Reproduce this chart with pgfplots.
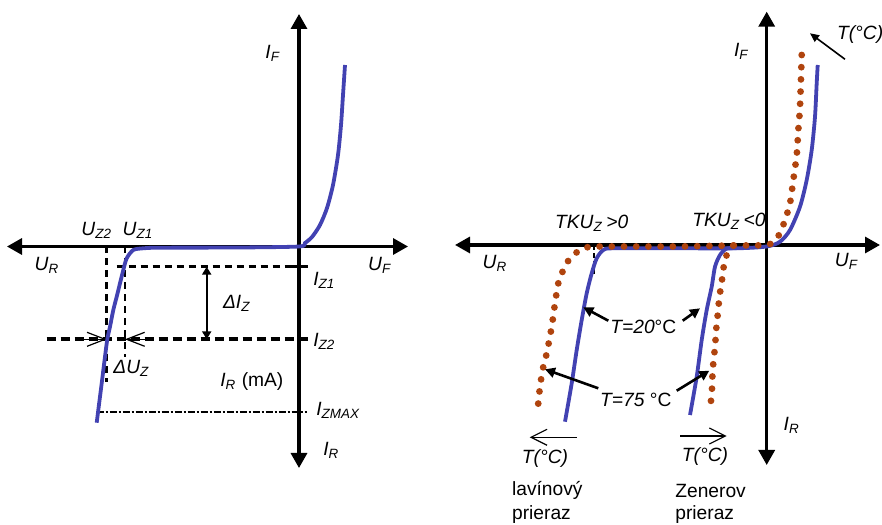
\documentclass[border=0pt]{standalone}
\usepackage{pgfplots}
\pgfplotsset{compat=1.18}
\usepackage{fontspec}
\setmainfont{Liberation Sans}
\usetikzlibrary{arrows.meta}
\definecolor{cblue}{RGB}{66,66,178}
\definecolor{cbrown}{RGB}{176,68,14}
\newcommand\V[2]{\textit{#1}\textsubscript{\textit{#2}}}
\pgfplotsset{diag/.style={hide axis, scale only axis, clip=false, height=262pt, anchor=south west},
  bluecurve/.style={cblue, line width=1.9pt, smooth, tension=0.45, no markers},
  browncurve/.style={cbrown, line width=3.4pt, line cap=round, dash pattern=on 0pt off 6.1pt, smooth, tension=0.45, no markers}}
\tikzset{ax/.style={line width=1.6pt, {Triangle[length=7.5pt,width=8pt]}-{Triangle[length=7.5pt,width=8pt]}},
  ann/.style={line width=1.3pt, -{Triangle[length=5pt,width=5pt]}}}
\begin{document}
\begin{tikzpicture}[font=\fontsize{9.6}{11}\selectfont, every node/.style={inner sep=0pt}]
% ---------------- left panel ----------------
\begin{axis}[diag, xmin=-299, xmax=141, ymin=-277.5, ymax=246.5, width=220pt, at={(0,0)}]
\draw[ax] (axis cs:-292,0) -- (axis cs:109,0);
\draw[ax] (axis cs:0,-221.5) -- (axis cs:0,232.5);
% dashed construction lines
\draw[line width=1.3pt, dash pattern=on 3.5pt off 2.5pt] (axis cs:-192.3,0) -- (axis cs:-192.3,-135.2);
\draw[line width=1.3pt, dash pattern=on 3.5pt off 2.5pt] (axis cs:-174,0) -- (axis cs:-174,-110.2);
\draw[line width=1.3pt, dash pattern=on 3.5pt off 2.5pt] (axis cs:-182.3,-20.2) -- (axis cs:-9,-20.2);
\draw[line width=1.3pt] (axis cs:-9,-20.2) -- (axis cs:9,-20.2);
\draw[line width=1.8pt, dash pattern=on 4.5pt off 2.5pt] (axis cs:-252.3,-92.8) -- (axis cs:9,-92.8);
\draw[line width=1.1pt, dash pattern=on 3.5pt off 1pt on 1pt off 1pt] (axis cs:-202.3,-165.2) -- (axis cs:7.7,-165.2);
\draw[line width=1pt, {Triangle[length=4pt,width=4.5pt]}-{Triangle[length=4pt,width=4.5pt]}] (axis cs:-92.3,-20.2) -- (axis cs:-92.3,-92.8);
\draw[line width=0.6pt, -{Straight Barb[length=9pt,width=7pt]}] (axis cs:-216,-92.8) -- (axis cs:-192.3,-92.8);
\draw[line width=0.6pt, -{Straight Barb[length=9pt,width=7pt]}] (axis cs:-150,-92.8) -- (axis cs:-174,-92.8);
% characteristic
\addplot[bluecurve] coordinates {(46,181.5) (44,151.5) (42,121.5) (39,91.5) (34,61.5) (28,38.5) (21,21.5) (13,9.5) (6,3.5) (0,0) (-60,-1) (-139,-1.2) (-155.7,-1.8) (-165.7,-3.5) (-172.3,-11.8) (-175.7,-23.5) (-179,-36.8) (-182.3,-50.2) (-185.7,-63.5) (-189,-80.2) (-191.7,-92.8) (-194,-110.2) (-197.3,-136.8) (-200.7,-163.5) (-202.3,-176.2)};
% labels
\node at (axis cs:-26,193.5) {\V{I}{F}};
\node at (axis cs:-202.3,16.5) {\V{U}{Z2}};
\node at (axis cs:-161,16.5) {\V{U}{Z1}};
\node at (axis cs:-252,-18.5) {\V{U}{R}};
\node at (axis cs:81,-18.5) {\V{U}{F}};
\node[anchor=west] at (axis cs:14,-33.5) {\V{I}{Z1}};
\node[anchor=west] at (axis cs:-76.3,-56.8) {\V{\textit{Δ}I}{Z}};
\node[anchor=west] at (axis cs:14,-95.2) {\V{I}{Z2}};
\node[anchor=west] at (axis cs:-186,-121.8) {\V{\textit{Δ}U}{Z}};
\node[anchor=west] at (axis cs:-79,-135.2) {\V{I}{R} (mA)};
\node[anchor=west] at (axis cs:17,-164.2) {\V{I}{ZMAX}};
\node[anchor=west] at (axis cs:24,-203.5) {\V{I}{R}};
\end{axis}
% ---------------- right panel ----------------
\begin{axis}[diag, xmin=-326.7, xmax=115.3, ymin=-279, ymax=245, width=221pt, at={(220pt,0)}]
\draw[ax] (axis cs:-311.7,0) -- (axis cs:113.3,0);
\draw[ax] (axis cs:0,-220) -- (axis cs:0,233.3);
\draw[line width=0.9pt, dash pattern=on 2.5pt off 1.5pt] (axis cs:-172.7,0) -- (axis cs:-172.7,-31.7);
% blue (T = 20 C)
\addplot[bluecurve] coordinates {(51,180) (50,162) (48.3,128.3) (45,95) (40,65) (33.3,38.3) (23.3,15) (13.3,3.3) (0,-1.5) (-30,-3.3) (-90,-3.3) (-153.4,-3.3) (-163.4,-5) (-170,-13.3) (-175,-28.3) (-180,-48.3) (-185,-75) (-190,-105) (-195,-138.3) (-201.7,-176.7)};
\addplot[bluecurve] coordinates {(-30,-3.3) (-40,-3.5) (-46.7,-10) (-51.7,-21.7) (-55,-41.7) (-60,-65) (-65,-95) (-70,-131.7) (-76.7,-170)};
% brown dotted (T = 75 C)
\addplot[browncurve] coordinates {(35,190) (33.3,138.3) (31.6,115) (30,90) (26.6,65) (23.3,41.7) (18.3,25) (13.3,11.7) (8.3,5) (0,0) (-33.4,-0.5) (-90,-1.5) (-166.7,-1.5) (-176.7,-1.7) (-186.7,-5) (-196.7,-13.3) (-203.4,-25) (-208.4,-38.3) (-211.7,-58.3) (-215,-81.7) (-220,-108.3) (-223.4,-121.7) (-226.7,-141.7) (-229.4,-168.3)};
\addplot[browncurve] coordinates {(-33.4,-0.5) (-39.4,-8.3) (-41.7,-16.7) (-44,-26.7) (-45,-38.3) (-47.4,-51.7) (-48.4,-65) (-50,-78.3) (-51.7,-101.7) (-54,-125) (-55,-150) (-56.7,-161.7)};
% annotations
\draw[line width=0.8pt, -{Triangle[length=4.5pt,width=4pt]}] (axis cs:78.3,185.7) -- (axis cs:43.3,211.7);
\node[anchor=west] at (axis cs:70,210) {\textit{T(°C)}};
\node at (axis cs:-25,193.3) {\V{I}{F}};
\node at (axis cs:-175,21.7) {\textit{TKU}\textsubscript{\textit{Z}}\,\textit{>0}};
\node at (axis cs:-37.7,23.3) {\textit{TKU}\textsubscript{\textit{Z}}\,\textit{<0}};
\node at (axis cs:-271.7,-18) {\V{U}{R}};
\node at (axis cs:80,-16.7) {\V{U}{F}};
\node at (axis cs:25,-180) {\V{I}{R}};
\node at (axis cs:-123.4,-81.7) {\textit{T=20}°C};
\draw[ann] (axis cs:-158.4,-75.7) -- (axis cs:-183.4,-62.3);
\draw[ann] (axis cs:-84,-75.7) -- (axis cs:-66.7,-63.3);
\node at (axis cs:-130.9,-155) {\textit{T=75} °C};
\draw[ann] (axis cs:-168.4,-143.3) -- (axis cs:-221.7,-124.3);
\draw[ann] (axis cs:-90,-145.7) -- (axis cs:-57.4,-125.7);
\draw[line width=0.6pt, -{Straight Barb[length=8pt,width=8pt]}] (axis cs:-190,-192.3) -- (axis cs:-237,-192.3);
\draw[line width=0.6pt, -{Straight Barb[length=8pt,width=8pt]}] (axis cs:-86.7,-191) -- (axis cs:-40,-191);
\node at (axis cs:-221.7,-213.3) {\textit{T(°C)}};
\node at (axis cs:-61.7,-211.7) {\textit{T(°C)}};
\node[anchor=west] at (axis cs:-255,-245) {lavínový};
\node[anchor=west] at (axis cs:-255,-270) {prieraz};
\node[anchor=west] at (axis cs:-91.7,-245.7) {Zenerov};
\node[anchor=west] at (axis cs:-91.7,-270) {prieraz};
\end{axis}
\pgfresetboundingbox
\path (0,0) rectangle (441pt,262pt);
\end{tikzpicture}
\end{document}
